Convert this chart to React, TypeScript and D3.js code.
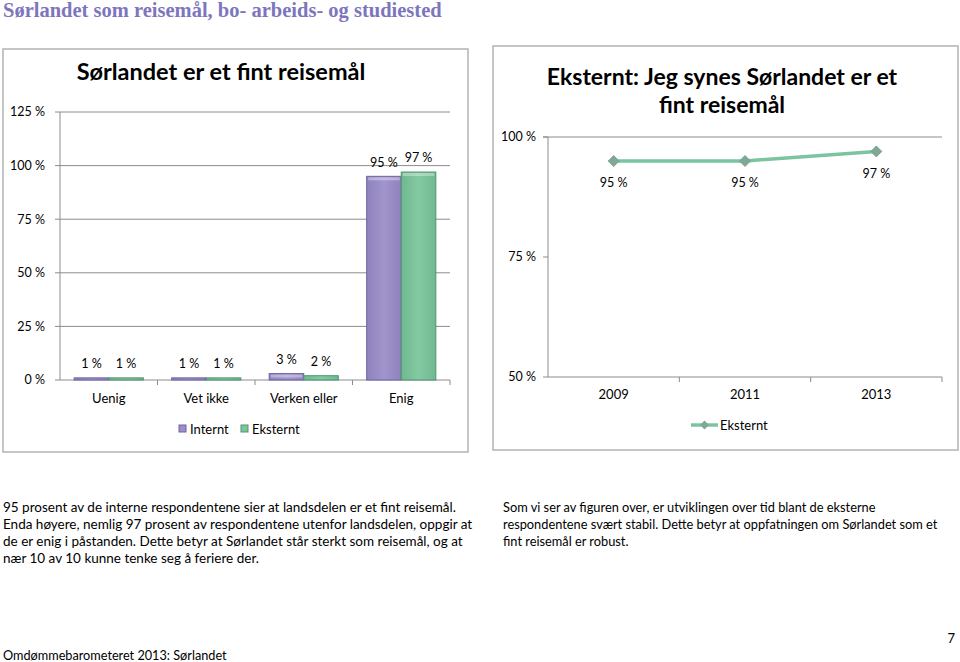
import React from "react";
import * as d3 from "d3";

const categories = ["Uenig", "Vet ikke", "Verken eller", "Enig"];
const seriesNames = ["Internt", "Eksternt"];
const internt = [1, 1, 3, 95];
const eksternt = [1, 1, 2, 97];
const leftTicks = [0, 25, 50, 75, 100, 125];

const years = ["2009", "2011", "2013"];
const eksterntTrend = [95, 95, 97];
const rightTicks = [50, 75, 100];

const pageTitle = "Sørlandet som reisemål, bo- arbeids- og studiested";
const leftTitle = "Sørlandet er et fint reisemål";
const rightTitle = ["Eksternt: Jeg synes Sørlandet er et", "fint reisemål"];
const leftText = [
  "95 prosent av de interne respondentene sier at landsdelen er et fint reisemål.",
  "Enda høyere, nemlig 97 prosent av respondentene utenfor landsdelen, oppgir at",
  "de er enig i påstanden. Dette betyr at Sørlandet står sterkt som reisemål, og at",
  "nær 10 av 10 kunne tenke seg å feriere der.",
];
const rightText = [
  "Som vi ser av figuren over, er utviklingen over tid blant de eksterne",
  "respondentene svært stabil. Dette betyr at oppfatningen om Sørlandet som et",
  "fint reisemål er robust.",
];
const footer = "Omdømmebarometeret 2013: Sørlandet";
const pageNo = "7";

const FONT = "Lato, 'Open Sans', sans-serif";
const PURPLE = "#9c8fc8";
const PURPLE_D = "#6e62a3";
const GREEN = "#7ec49d";
const GREEN_D = "#4f9570";
const GRID = "#8c8c8c";
const BOX = "#b3b3b3";

export default function App() {
  // left chart scales
  const lx = d3.scaleBand<string>().domain(categories).range([60, 450]);
  const ly = d3.scaleLinear().domain([0, 125]).range([380, 112]);
  const inner = d3
    .scaleBand<string>()
    .domain(seriesNames)
    .range([0, lx.bandwidth()])
    .paddingOuter(0.41)
    .paddingInner(0);
  const data = [internt, eksternt];
  const fills = [PURPLE, GREEN];
  const edges = [PURPLE_D, GREEN_D];

  // right chart scales
  const rx = d3.scaleBand<string>().domain(years).range([548, 942]);
  const ry = d3.scaleLinear().domain([50, 100]).range([377, 137]);
  const line = d3
    .line<number>()
    .x((_, i) => (rx(years[i]) as number) + rx.bandwidth() / 2)
    .y((v) => ry(v));

  const diamond = (cx: number, cy: number, r: number) =>
    `M${cx},${cy - r}L${cx + r},${cy}L${cx},${cy + r}L${cx - r},${cy}Z`;

  return (
    <svg
      width={960}
      height={662}
      style={{ position: "absolute", left: 0, top: 0, background: "#fff" }}
      fontFamily={FONT}
    >
      <defs>
        <linearGradient id="gP" x1="0" x2="1" y1="0" y2="0">
          <stop offset="0" stopColor="#8f82bd" />
          <stop offset="0.5" stopColor="#a195cc" />
          <stop offset="1" stopColor="#8f82bd" />
        </linearGradient>
        <linearGradient id="gG" x1="0" x2="1" y1="0" y2="0">
          <stop offset="0" stopColor="#70b890" />
          <stop offset="0.5" stopColor="#84c9a2" />
          <stop offset="1" stopColor="#70b890" />
        </linearGradient>
      </defs>

      <text
        x={3}
        y={17}
        fontFamily="'Liberation Serif', 'DejaVu Serif', serif"
        fontWeight="bold"
        fontSize={20.5}
        fill="#7d76bd"
      >
        {pageTitle}
      </text>

      {/* left chart box */}
      <rect x={3} y={49} width={465} height={403} fill="#fff" stroke={BOX} strokeWidth={1.5} />
      <text x={221} y={80} textAnchor="middle" fontWeight="bold" fontSize={23.5} fill="#000">
        {leftTitle}
      </text>
      {leftTicks.map((t) => (
        <g key={t}>
          <line x1={55} x2={450} y1={ly(t)} y2={ly(t)} stroke={GRID} strokeWidth={1} />
          <text x={45} y={ly(t)} dy="0.35em" textAnchor="end" fontSize={12.5} fill="#000">
            {t} %
          </text>
        </g>
      ))}
      <line x1={60} x2={60} y1={112} y2={380} stroke={GRID} />
      {categories.map((c, i) => (
        <g key={c}>
          <line
            x1={(lx(c) as number) + lx.bandwidth()}
            x2={(lx(c) as number) + lx.bandwidth()}
            y1={380}
            y2={385}
            stroke={GRID}
          />
          <text
            x={(lx(c) as number) + lx.bandwidth() / 2}
            y={398}
            dy="0.35em"
            textAnchor="middle"
            fontSize={13}
            fill="#000"
          >
            {c}
          </text>
          {seriesNames.map((s, si) => {
            const x = (lx(c) as number) + (inner(s) as number);
            const v = data[si][i];
            const y = ly(v);
            const h = ly(0) - y;
            return (
              <g key={s}>
                <rect
                  x={x}
                  y={y}
                  width={inner.bandwidth()}
                  height={Math.max(h, 1)}
                  fill={si === 0 ? "url(#gP)" : "url(#gG)"}
                  stroke={edges[si]}
                  strokeWidth={1}
                />
                {h > 6 && (
                  <rect
                    x={x + 1.5}
                    y={y + 1}
                    width={inner.bandwidth() - 3}
                    height={3}
                    fill="#fff"
                    opacity={0.35}
                  />
                )}
                <text
                  x={x + inner.bandwidth() / 2}
                  y={y - 14}
                  dy="0.35em"
                  textAnchor="middle"
                  fontSize={12.5}
                  fill="#000"
                >
                  {v} %
                </text>
              </g>
            );
          })}
        </g>
      ))}
      {/* left legend */}
      {seriesNames.map((s, i) => {
        const lxp = [179, 241][i];
        return (
          <g key={s}>
            <rect x={lxp} y={425} width={7} height={7} fill={fills[i]} stroke={edges[i]} strokeWidth={1} />
            <text x={lxp + 11} y={429} dy="0.35em" fontSize={13} fill="#000">
              {s}
            </text>
          </g>
        );
      })}

      {/* right chart box */}
      <rect x={493} y={46} width={465} height={404} fill="#fff" stroke={BOX} strokeWidth={1.5} />
      {rightTitle.map((t, i) => (
        <text key={i} x={722} y={85 + i * 28} textAnchor="middle" fontWeight="bold" fontSize={23} fill="#000">
          {t}
        </text>
      ))}
      {rightTicks.map((t) => (
        <g key={t}>
          <line x1={543} x2={942} y1={ry(t)} y2={ry(t)} stroke={t === 100 ? GRID : "none"} />
          <line x1={543} x2={548} y1={ry(t)} y2={ry(t)} stroke={GRID} />
          <text x={536} y={ry(t)} dy="0.35em" textAnchor="end" fontSize={12.5} fill="#000">
            {t} %
          </text>
        </g>
      ))}
      <line x1={548} x2={548} y1={137} y2={377} stroke={GRID} />
      <line x1={548} x2={942} y1={377} y2={377} stroke={GRID} />
      {years.map((yr) => (
        <g key={yr}>
          <line
            x1={(rx(yr) as number) + rx.bandwidth()}
            x2={(rx(yr) as number) + rx.bandwidth()}
            y1={377}
            y2={382}
            stroke={GRID}
          />
          <text
            x={(rx(yr) as number) + rx.bandwidth() / 2}
            y={394}
            dy="0.35em"
            textAnchor="middle"
            fontSize={13}
            fill="#000"
          >
            {yr}
          </text>
        </g>
      ))}
      <path d={line(eksterntTrend) || ""} fill="none" stroke="#7cc4a0" strokeWidth={3.5} strokeLinejoin="round" />
      {eksterntTrend.map((v, i) => {
        const cx = (rx(years[i]) as number) + rx.bandwidth() / 2;
        const cy = ry(v);
        return (
          <g key={i}>
            <path d={diamond(cx, cy, 5.5)} fill="#80a898" stroke="#6f9987" strokeWidth={0.8} />
            <text x={cx} y={cy + 22} dy="0.35em" textAnchor="middle" fontSize={12.5} fill="#000">
              {v} %
            </text>
          </g>
        );
      })}
      {/* right legend */}
      <line x1={691} x2={718} y1={425} y2={425} stroke="#7cc4a0" strokeWidth={3.5} />
      <path d={diamond(704.5, 425, 4.5)} fill="#80a898" />
      <text x={720} y={425} dy="0.35em" fontSize={13} fill="#000">
        Eksternt
      </text>

      {/* body text */}
      {leftText.map((t, i) => (
        <text key={i} x={3} y={512 + i * 17} fontSize={13.5} fill="#000">
          {t}
        </text>
      ))}
      {rightText.map((t, i) => (
        <text key={i} x={503} y={512 + i * 17} fontSize={12.8} fill="#000">
          {t}
        </text>
      ))}
      <text x={3} y={660} fontSize={12.7} fill="#000">
        {footer}
      </text>
      <text x={955} y={643} textAnchor="end" fontSize={13} fill="#000">
        {pageNo}
      </text>
    </svg>
  );
}
